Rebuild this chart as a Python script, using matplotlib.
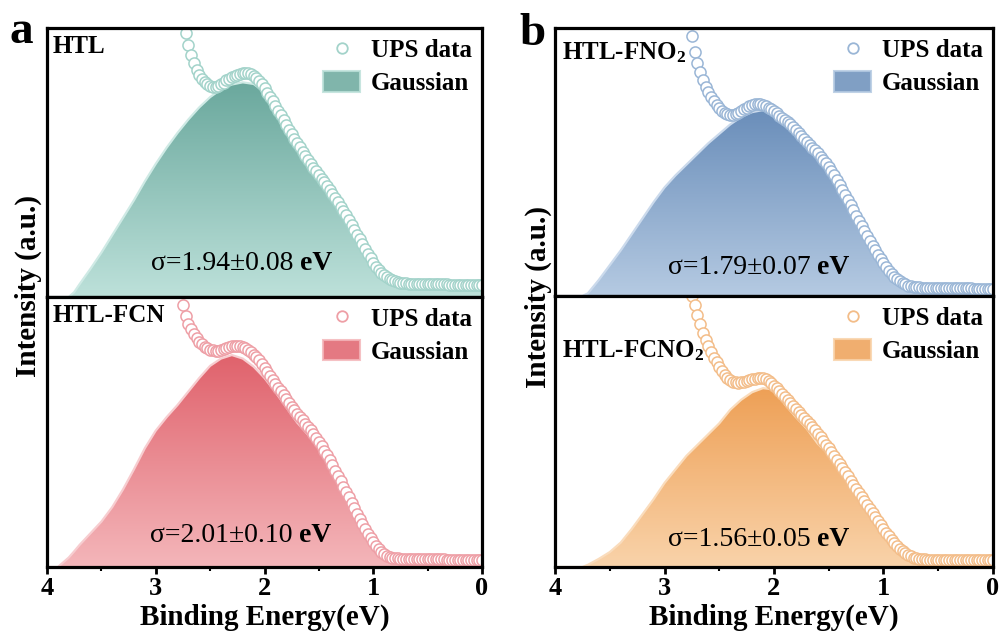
import numpy as np
import matplotlib
matplotlib.use("Agg")
import matplotlib.pyplot as plt
from matplotlib.colors import LinearSegmentedColormap
from matplotlib.lines import Line2D
from matplotlib.patches import Patch

plt.rcParams['font.family'] = ['Liberation Serif', 'DejaVu Serif']
plt.rcParams['font.weight'] = 'bold'
plt.rcParams['mathtext.fontset'] = 'custom'
plt.rcParams['mathtext.rm'] = 'Liberation Serif:bold'
plt.rcParams['mathtext.bf'] = 'Liberation Serif:bold'
plt.rcParams['mathtext.default'] = 'bf'

# ---------------- data ----------------
ups_energy = [2.80, 2.775, 2.75, 2.725, 2.70, 2.675, 2.65, 2.625, 2.60, 2.575,
              2.55, 2.525, 2.50, 2.475, 2.45, 2.425, 2.40, 2.375, 2.35, 2.325,
              2.30, 2.275, 2.25, 2.225, 2.20, 2.175, 2.15, 2.125, 2.10, 2.075,
              2.05, 2.025, 2.00, 1.975, 1.95, 1.925, 1.90, 1.875, 1.85, 1.825,
              1.80, 1.775, 1.75, 1.725, 1.70, 1.675, 1.65, 1.625, 1.60, 1.575,
              1.55, 1.525, 1.50, 1.475, 1.45, 1.425, 1.40, 1.375, 1.35, 1.325,
              1.30, 1.275, 1.25, 1.225, 1.20, 1.175, 1.15, 1.125, 1.10, 1.075,
              1.05, 1.025, 1.00, 0.975, 0.95, 0.925, 0.90, 0.875, 0.85, 0.825,
              0.80, 0.775, 0.75, 0.725, 0.70, 0.675, 0.65, 0.625, 0.60,
              0.575, 0.55, 0.525, 0.50, 0.475, 0.45, 0.425, 0.40, 0.375, 0.35,
              0.325, 0.30, 0.275, 0.25, 0.225, 0.20, 0.175, 0.15, 0.125, 0.10,
              0.075, 0.05, 0.025, 0.00]

ups_htl = [1.20, 1.12, 1.04, 0.98, 0.935, 0.90, 0.87, 0.845, 0.825, 0.81,
           0.80, 0.79, 0.785, 0.782, 0.782, 0.785, 0.79, 0.797, 0.805, 0.812,
           0.818, 0.823, 0.827, 0.83, 0.832, 0.833, 0.832, 0.828, 0.822, 0.813,
           0.802, 0.79, 0.776, 0.76, 0.745, 0.728, 0.71, 0.693, 0.675, 0.658,
           0.64, 0.622, 0.605, 0.588, 0.572, 0.556, 0.54, 0.525, 0.51, 0.495,
           0.481, 0.467, 0.453, 0.44, 0.426, 0.412, 0.398, 0.383, 0.368, 0.352,
           0.336, 0.32, 0.303, 0.286, 0.268, 0.25, 0.232, 0.214, 0.196, 0.178,
           0.161, 0.144, 0.128, 0.113, 0.099, 0.09, 0.082, 0.074, 0.067, 0.062,
           0.058, 0.055, 0.053, 0.052, 0.051, 0.05, 0.05, 0.049, 0.049,
           0.049, 0.048, 0.048, 0.048, 0.048, 0.047, 0.047, 0.047, 0.047, 0.047,
           0.047, 0.046, 0.046, 0.046, 0.046, 0.046, 0.046, 0.046, 0.046, 0.045,
           0.045, 0.045, 0.045, 0.045]

ups_fcn = [1.08, 1.02, 0.97, 0.93, 0.90, 0.88, 0.862, 0.848, 0.835, 0.825,
           0.816, 0.81, 0.805, 0.802, 0.80, 0.80, 0.802, 0.806, 0.81, 0.815,
           0.818, 0.82, 0.82, 0.818, 0.815, 0.81, 0.803, 0.795, 0.786, 0.776,
           0.765, 0.752, 0.738, 0.724, 0.709, 0.694, 0.679, 0.664, 0.65, 0.636,
           0.622, 0.608, 0.594, 0.58, 0.567, 0.555, 0.543, 0.531, 0.519, 0.506,
           0.493, 0.479, 0.464, 0.448, 0.431, 0.413, 0.395, 0.376, 0.357, 0.338,
           0.318, 0.298, 0.278, 0.258, 0.238, 0.218, 0.198, 0.179, 0.16, 0.142,
           0.124, 0.107, 0.092, 0.078, 0.066, 0.056, 0.048, 0.042, 0.038, 0.035,
           0.033, 0.032, 0.031, 0.031, 0.03, 0.03, 0.03, 0.029, 0.029,
           0.029, 0.029, 0.029, 0.029, 0.028, 0.028, 0.028, 0.028, 0.028, 0.028,
           0.027, 0.027, 0.027, 0.027, 0.027, 0.027, 0.026, 0.026, 0.026, 0.026,
           0.026, 0.026, 0.026, 0.026]

ups_fno2 = [1.12, 1.04, 0.97, 0.91, 0.87, 0.835, 0.805, 0.78, 0.76, 0.742,
            0.727, 0.714, 0.702, 0.692, 0.684, 0.678, 0.675, 0.675, 0.678, 0.684,
            0.69, 0.697, 0.703, 0.709, 0.714, 0.717, 0.718, 0.717, 0.714, 0.709,
            0.703, 0.696, 0.689, 0.681, 0.673, 0.665, 0.657, 0.649, 0.64, 0.63,
            0.62, 0.609, 0.598, 0.587, 0.576, 0.565, 0.554, 0.543, 0.532, 0.52,
            0.508, 0.495, 0.481, 0.466, 0.45, 0.433, 0.415, 0.397, 0.378, 0.359,
            0.339, 0.32, 0.30, 0.281, 0.262, 0.243, 0.224, 0.206, 0.188, 0.17,
            0.153, 0.137, 0.122, 0.108, 0.095, 0.083, 0.072, 0.063, 0.055, 0.048,
            0.043, 0.039, 0.036, 0.034, 0.033, 0.032, 0.031, 0.031, 0.03,
            0.03, 0.03, 0.03, 0.03, 0.029, 0.029, 0.029, 0.029, 0.029, 0.029,
            0.028, 0.028, 0.028, 0.028, 0.028, 0.028, 0.027, 0.027, 0.027, 0.027,
            0.027, 0.027, 0.027, 0.027]

ups_fcno2 = [1.06, 1.03, 1.0, 0.965, 0.93, 0.895, 0.865, 0.838, 0.815, 0.793,
             0.773, 0.755, 0.738, 0.722, 0.708, 0.697, 0.689, 0.684, 0.681, 0.68,
             0.681, 0.683, 0.686, 0.689, 0.692, 0.695, 0.697, 0.697, 0.696, 0.692,
             0.686, 0.678, 0.669, 0.659, 0.648, 0.637, 0.626, 0.615, 0.604, 0.593,
             0.582, 0.571, 0.56, 0.549, 0.538, 0.527, 0.516, 0.504, 0.492, 0.479,
             0.466, 0.452, 0.438, 0.424, 0.409, 0.394, 0.379, 0.364, 0.349, 0.334,
             0.319, 0.304, 0.289, 0.274, 0.259, 0.244, 0.229, 0.214, 0.199, 0.184,
             0.169, 0.154, 0.14, 0.126, 0.113, 0.10, 0.088, 0.077, 0.067, 0.058,
             0.05, 0.044, 0.039, 0.035, 0.032, 0.03, 0.029, 0.028, 0.027,
             0.027, 0.027, 0.027, 0.027, 0.026, 0.026, 0.026, 0.026, 0.026, 0.026,
             0.025, 0.025, 0.025, 0.025, 0.025, 0.025, 0.024, 0.024, 0.024, 0.024,
             0.024, 0.024, 0.024, 0.024]

gauss_energy = [4.0, 3.9, 3.8, 3.75, 3.7, 3.6, 3.5, 3.4, 3.3, 3.2, 3.1,
                3.0, 2.9, 2.8, 2.7, 2.6, 2.5, 2.4, 2.3, 2.2, 2.1,
                2.0, 1.9, 1.8, 1.7, 1.6, 1.5, 1.4, 1.3, 1.2, 1.1,
                1.0, 0.9, 0.8, 0.7, 0.6, 0.5, 0.4, 0.3, 0.2, 0.1, 0.0]

gauss_htl = [0.0, 0.0, 0.0, 0.018, 0.048, 0.105, 0.165, 0.23, 0.295, 0.36, 0.43,
             0.495, 0.555, 0.61, 0.66, 0.705, 0.743, 0.772, 0.79, 0.798, 0.792,
             0.762, 0.712, 0.652, 0.585, 0.515, 0.448, 0.385, 0.322, 0.258, 0.19,
             0.118, 0.072, 0.05, 0.046, 0.045, 0.045, 0.044, 0.044, 0.044, 0.043, 0.043]

gauss_fcn = [0.0, 0.0, 0.035, 0.058, 0.082, 0.125, 0.168, 0.222, 0.288, 0.362, 0.44,
             0.505, 0.555, 0.60, 0.65, 0.70, 0.745, 0.772, 0.785, 0.772, 0.742,
             0.70, 0.648, 0.592, 0.535, 0.49, 0.44, 0.372, 0.30, 0.232, 0.158,
             0.085, 0.038, 0.027, 0.025, 0.025, 0.024, 0.024, 0.023, 0.023, 0.022, 0.022]

gauss_fno2 = [0.0, 0.0, 0.0, 0.0, 0.01, 0.06, 0.115, 0.17, 0.23, 0.29, 0.35,
              0.405, 0.45, 0.49, 0.53, 0.57, 0.605, 0.64, 0.668, 0.686, 0.694,
              0.672, 0.637, 0.60, 0.56, 0.515, 0.46, 0.395, 0.325, 0.26, 0.19,
              0.115, 0.065, 0.032, 0.022, 0.02, 0.02, 0.02, 0.02, 0.02, 0.02, 0.02]

gauss_fcno2 = [0.0, 0.0, 0.0, 0.0, 0.008, 0.03, 0.055, 0.09, 0.14, 0.195, 0.25,
               0.31, 0.36, 0.41, 0.45, 0.49, 0.53, 0.58, 0.617, 0.645, 0.66,
               0.655, 0.60, 0.553, 0.51, 0.455, 0.415, 0.37, 0.31, 0.255, 0.19,
               0.128, 0.078, 0.04, 0.025, 0.02, 0.018, 0.018, 0.018, 0.018, 0.018, 0.018]

sample_names = ['HTL', 'HTL-FCN', 'HTL-FNO$_2$', 'HTL-FCNO$_2$']
sigma_values = ['1.94\u00b10.08', '2.01\u00b10.10', '1.79\u00b10.07', '1.56\u00b10.05']
x_ticks = [4, 3, 2, 1, 0]
x_label = 'Binding Energy(eV)'
y_label = 'Intensity (a.u.)'
legend_labels = ['UPS data', 'Gaussian']
panel_letters = ['a', 'b']

# ---------------- style ----------------
styles = [
    dict(dark='#6aa89d', light='#bde1da', ring='#a3d3ca', edge='#cfeae5'),
    dict(dark='#e0626c', light='#f4b6ba', ring='#ee9fa6', edge='#f7cdd0'),
    dict(dark='#6a8eba', light='#b5cae2', ring='#9ab6d6', edge='#cbdaec'),
    dict(dark='#eea056', light='#f9d3aa', ring='#f3bd89', edge='#fadcbc'),
]

fig = plt.figure(figsize=(10.03, 6.31), dpi=100)
W, H = 1003.0, 631.0

def ax_at(x0, x1, y0, y1):
    return fig.add_axes([x0 / W, 1 - y1 / H, (x1 - x0) / W, (y1 - y0) / H])

axes = [ax_at(47, 482, 28, 297), ax_at(47, 482, 297, 567),
        ax_at(555, 993, 28, 296), ax_at(555, 993, 296, 567)]

ups_sets = [ups_htl, ups_fcn, ups_fno2, ups_fcno2]
gauss_sets = [gauss_htl, gauss_fcn, gauss_fno2, gauss_fcno2]

# label positions (axes fraction)
name_pos = [(0.012, 0.975), (0.012, 0.975), (0.016, 0.952), (0.016, 0.845)]
sigma_pos = [(0.238, 0.126), (0.236, 0.115), (0.257, 0.108), (0.257, 0.103)]

for i, ax in enumerate(axes):
    st = styles[i]
    ge = np.array(gauss_energy)
    gy = np.array(gauss_sets[i])
    peak = gy.max()
    poly = ax.fill_between(ge, gy, 0, facecolor='none', edgecolor='none')
    cmap = LinearSegmentedColormap.from_list('g%d' % i, [st['light'], st['dark']])
    grad = np.linspace(0, 1, 256).reshape(-1, 1)
    im = ax.imshow(grad, extent=[4, 0, 0, peak], origin='lower', aspect='auto',
                   cmap=cmap, zorder=1, interpolation='bicubic')
    im.set_clip_path(poly.get_paths()[0], transform=ax.transData)
    ax.plot(ge, gy, color=st['edge'], lw=1.6, zorder=2)
    ax.plot(ups_energy, ups_sets[i], 'o', ms=8.0, mfc='white', mec=st['ring'],
            mew=1.1, zorder=3)

    ax.set_xlim(4, 0)
    ax.set_ylim(0, 1)
    ax.set_yticks([])
    for sp in ax.spines.values():
        sp.set_linewidth(2.3)
        sp.set_zorder(5)

    ax.text(name_pos[i][0], name_pos[i][1], sample_names[i], transform=ax.transAxes,
            ha='left', va='top', fontsize=18, fontweight='bold', zorder=6)
    t1 = ax.text(sigma_pos[i][0], sigma_pos[i][1], '\u03c3=' + sigma_values[i],
                 transform=ax.transAxes, ha='left', va='center', fontsize=20,
                 fontweight='normal', zorder=6)
    ax.annotate(' eV', xy=(1, 0), xycoords=t1, ha='left', va='bottom',
                fontsize=20, fontweight='bold', zorder=6)

    handles = [Line2D([], [], marker='o', ls='none', ms=7.6, mfc='white',
                      mec=st['ring'], mew=1.3),
               Patch(facecolor=st['dark'], edgecolor=st['light'], lw=1.5, alpha=0.85)]
    ax.legend(handles, legend_labels, loc='upper right', frameon=False,
              prop=dict(family='Liberation Serif', weight='bold', size=18),
              handlelength=1.45, handleheight=0.9, handletextpad=0.45,
              labelspacing=0.35, borderaxespad=0.25, borderpad=0.15)

    if i in (1, 3):
        ax.set_xticks(x_ticks)
        ax.set_xticklabels([str(t) for t in x_ticks])
        ax.set_xticks([3.5, 2.5, 1.5, 0.5], minor=True)
        ax.tick_params(axis='x', which='major', direction='out', length=5, width=2,
                       labelsize=19, pad=2)
        ax.tick_params(axis='x', which='minor', direction='out', length=3, width=1.5)
        for lab in ax.get_xticklabels():
            lab.set_fontweight('bold')
        ax.set_xlabel(x_label, fontsize=21, fontweight='bold', labelpad=3)
    else:
        ax.set_xticks([])

fig.text(10 / W, 1 - 43 / H, panel_letters[0], fontsize=34, fontweight='bold',
         ha='left', va='baseline')
fig.text(519 / W, 1 - 45 / H, panel_letters[1], fontsize=34, fontweight='bold',
         ha='left', va='baseline')
fig.text(28 / W, 1 - 286 / H, y_label, rotation=90, fontsize=21, fontweight='bold',
         ha='center', va='center')
fig.text(538 / W, 1 - 297 / H, y_label, rotation=90, fontsize=21, fontweight='bold',
         ha='center', va='center')

fig.savefig('out.png', dpi=100, facecolor='white')
